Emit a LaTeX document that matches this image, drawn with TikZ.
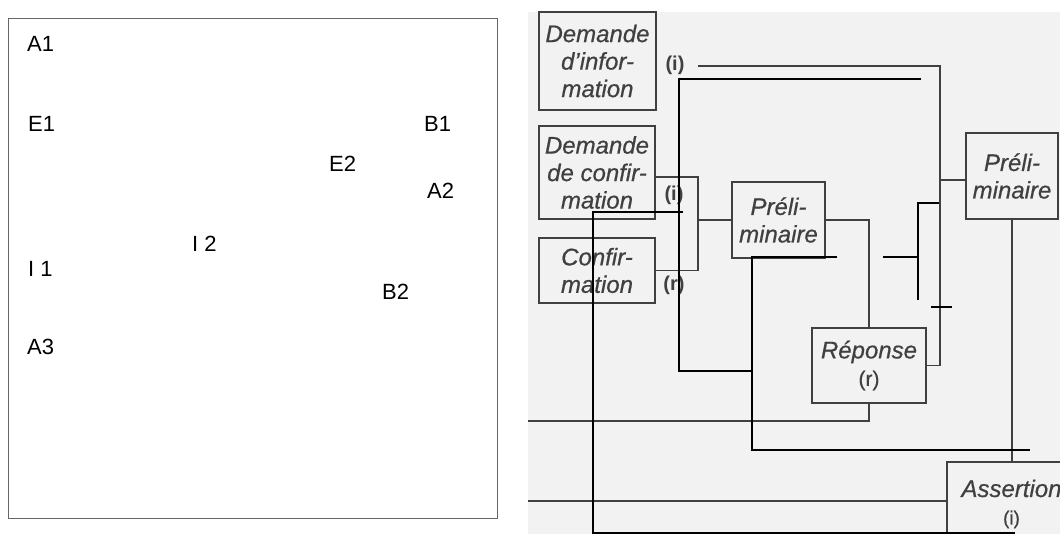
\documentclass[tikz,border=0pt]{standalone}
\usepackage{fontspec}
\setmainfont{Liberation Sans}
\newfontfamily\scanfont[FakeBold=0.6]{Liberation Sans}
\usetikzlibrary{positioning}
\definecolor{scanbg}{HTML}{F2F2F2}
\definecolor{ink}{HTML}{404040}

\begin{document}
\begin{tikzpicture}[x=1pt, y=-1pt, tag/.style={font=\fontsize{22}{22}\selectfont, anchor=base west, inner sep=0pt}, box/.style={draw=ink, line width=1.8pt, text=ink, font=\scanfont\itshape\fontsize{24}{27.5}\selectfont, align=center, inner sep=0pt}, paren/.style={text=ink, font=\bfseries\fontsize{20}{22}\selectfont, inner sep=0pt}, wire/.style={draw=ink, line width=1.8pt}, pen/.style={draw=black, line width=1.4pt}]

\useasboundingbox (0,0) rectangle (1060,534); \clip (0,0) rectangle (1060,534);
% left panel
\draw[gray!80!black, line width=1pt] (8,19) rectangle (497,518);
\node[tag] (a1) at (27,52) {A1}; \node[tag] (e1) at (28,132) {E1}; \node[tag] (b1) at (424,132) {B1};
\node[tag] (e2) at (329,172) {E2}; \node[tag] (a2) at (427,199) {A2}; \node[tag] (i2) at (192,252) {I 2};
\node[tag] (i1) at (28,277) {I 1}; \node[tag] (b2) at (382,300) {B2}; \node[tag] (a3) at (27,355) {A3};

% right panel, the scanned page
\fill[scanbg] (528,12) rectangle (1060,534);
\node[box, minimum width=117, minimum height=98] (dinfo) at (597.5,61) {Demande\\d’infor-\\mation};
\node[box, minimum width=116, minimum height=93] (dconf) at (597,172.5) {Demande\\de confir-\\mation};
\node[box, minimum width=116, minimum height=65] (conf) at (597,270.5) {Confir-\\mation};
\node[box, minimum width=93, minimum height=76] (prelB) at (778.5,220) {Préli-\\minaire};
\node[box, minimum width=92, minimum height=86] (prelC) at (1012,176) {Préli-\\minaire};
\node[box, minimum width=114, minimum height=75] (rep) at (869,365.5) {Réponse\\{\upshape\fontsize{21}{27.5}\selectfont (r)}};
\node[box, minimum width=129, minimum height=84] (asser) at (1011.5,504) {Assertion\\{\upshape\fontsize{19}{27.5}\selectfont (i)}};
\node[paren] (ia) at (675,65) {(i)}; \node[paren] (ib) at (674,195) {(i)}; \node[paren] (rb) at (674,285) {(r)};

\coordinate (t1) at (698,66); \coordinate (k1) at (940,66); \coordinate (k2) at (940,180); \coordinate (k3) at (698,177);
\coordinate (w1) at (528,421); \coordinate (w2) at (528,501);
\draw[wire] (t1) -- (k1) -- (k1 |- rep.east) -- (rep.east); \draw[wire] (k2) -- (k2 -| prelC.west);
\draw[wire] (k3 -| dconf.east) -- (k3) -- (k3 |- conf.east) -- (conf.east); \draw[wire] (k3 |- prelB.west) -- (prelB.west);
\draw[wire] (prelB.east) -| (rep.north); \draw[wire] (rep.south) |- (w1);
\draw[wire] (prelC.south) -- (prelC.south |- asser.north); \draw[wire] (w2) -- (w2 -| asser.west);

% pen strokes drawn over the page
\coordinate (p1) at (679,79); \coordinate (p2) at (921,79); \coordinate (q1) at (752,257); \coordinate (q2) at (837,257);
\coordinate (q3) at (1030,450); \coordinate (s1) at (593,212); \coordinate (s2) at (683,212); \coordinate (s3) at (1015,533);
\draw[pen] (p2) -- (p1) |- (q1 |- 0,371); \draw[pen] (q2) -- (q1) |- (q3); \draw[pen] (s2) -- (s1) |- (s3);
\coordinate (r1) at (918,203); \coordinate (r2) at (918,300);
\draw[pen] (939,203) -- (r1) -- (r2); \draw[pen] (883,257) -- (918,257); \draw[pen] (931,307) -- (952,307);
\end{tikzpicture}
\end{document}
